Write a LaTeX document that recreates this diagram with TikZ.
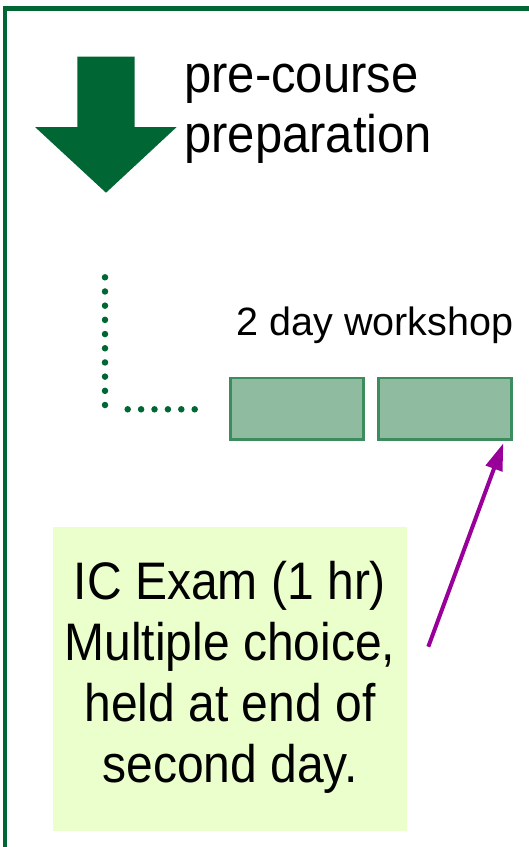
\documentclass[tikz,border=0pt]{standalone}
\usepackage{fontspec}
\setmainfont{Liberation Sans}
\usetikzlibrary{arrows.meta}
\definecolor{dkgreen}{HTML}{006633}
\definecolor{boxfill}{HTML}{8FBBA0}
\definecolor{boxline}{HTML}{3C8C5E}
\definecolor{lime}{HTML}{EBFFCC}
\definecolor{purp}{HTML}{990099}
\tikzset{
  frame/.style={draw=dkgreen, line width=4.3bp},
  dotline/.style={draw=dkgreen, line width=6.5bp, line cap=round},
  wkbox/.style={draw=boxline, fill=boxfill, line width=2.7bp, minimum width=133bp, minimum height=61.3bp, inner sep=0pt},
  exambox/.style={fill=lime, minimum width=354bp, minimum height=304bp, inner sep=0pt, align=center},
  plabel/.style={inner sep=0pt, text=black},
  parrow/.style={draw=purp, line width=4bp, -{Triangle[length=27bp, width=17bp]}}
}
\begin{document}
\begin{tikzpicture}[x=1bp,y=-1bp]
\useasboundingbox (0,0) rectangle (529,847);
\clip (0,0) rectangle (529,847);
\fill[white] (0,0) rectangle (529,847);
% frame
\draw[frame] (600,8.5) -- (4.7,8.5) -- (4.7,900);
% big green arrow
\fill[dkgreen] (77.3,56.7) -- (134.7,56.7) -- (134.7,127) -- (176.7,127) -- (106,192.7) -- (35,127) -- (77.3,127) -- cycle;
% label
\node[plabel, anchor=base west] (prep) at (184,92.7)
  {\fontsize{49bp}{55.7bp}\selectfont\scalebox{1}[1.08]{\begin{tabular}[t]{@{}l@{}}pre-course\\preparation\end{tabular}}};
% dotted elbow
\coordinate (dv1) at (105,277.3);
\coordinate (dv2) at (105,405.5);
\coordinate (dh1) at (127.7,409.3);
\coordinate (dh2) at (195.2,409.3);
\draw[dotline, dash pattern=on 0bp off 14.19bp] (dv1) -- (dv2);
\draw[dotline, dash pattern=on 0bp off 13.4bp] (dh1) -- (dh2);
% workshop
\node[plabel, anchor=base west] (wslabel) at (236.5,335.7)
  {\fontsize{39.5bp}{43bp}\selectfont 2 day workshop};
\node[wkbox] (wk1) at (297.2,408.7) {};
\node[wkbox] (wk2) at (444.7,408.7) {};
% exam box
\node[exambox] (exam) at (230,679)
  {\raisebox{-4bp}{\fontsize{48bp}{55.4bp}\selectfont\scalebox{1}[1.1]{\begin{tabular}{@{}c@{}}IC Exam (1 hr)\\Multiple choice,\\held at end of\\second day.\end{tabular}}}};
% purple arrow
\coordinate (pstart) at (428.3,646.7);
\coordinate (ptip) at (503.3,443.3);
\draw[parrow] (pstart) -- (ptip);
\end{tikzpicture}
\end{document}
